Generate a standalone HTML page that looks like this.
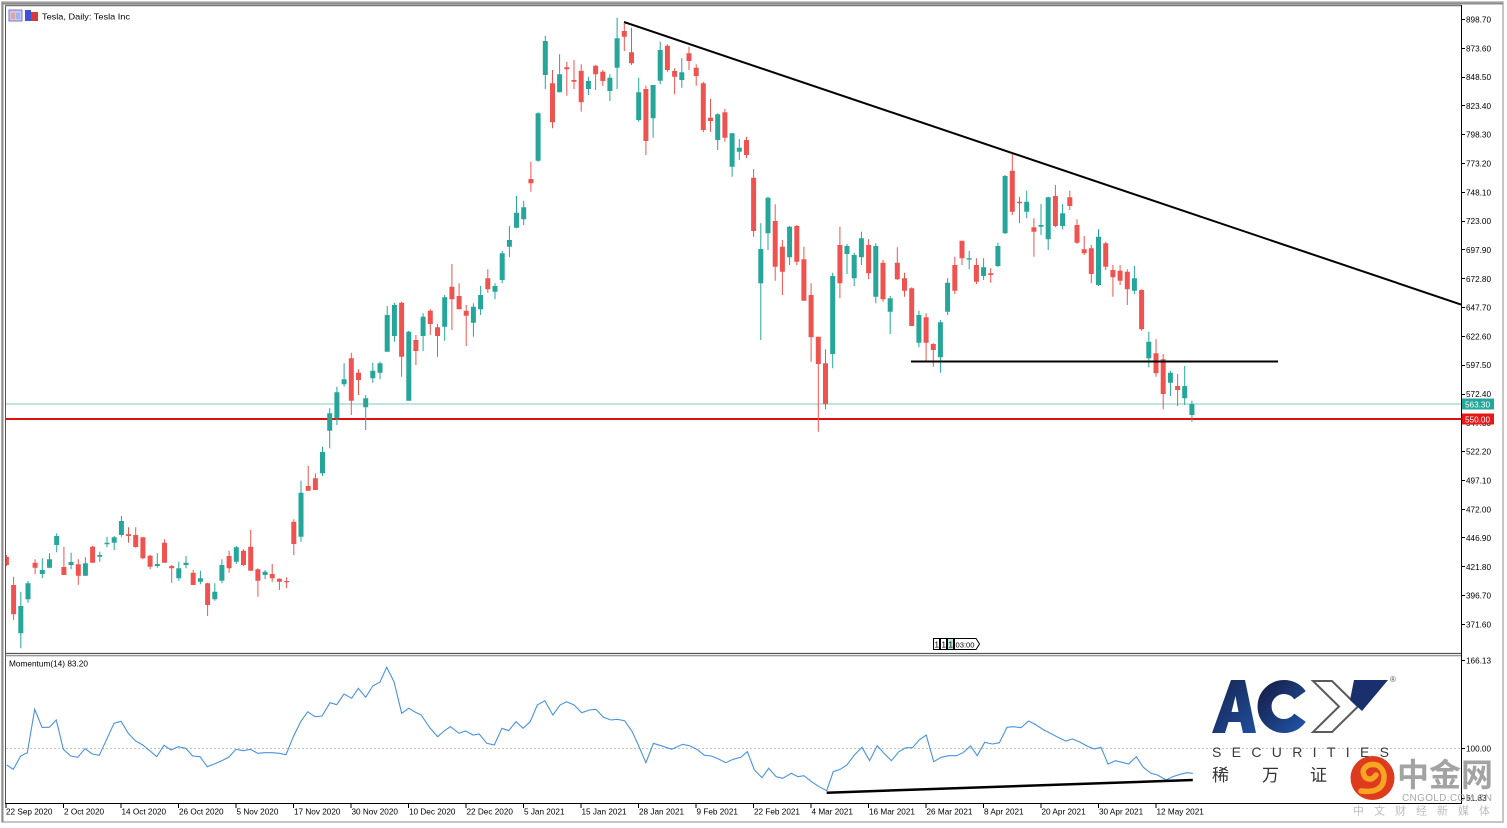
<!DOCTYPE html>
<html><head><meta charset="utf-8"><style>
html,body{margin:0;padding:0;background:#fff;width:1507px;height:828px;overflow:hidden}
svg{display:block}
text{font-family:"Liberation Sans","Noto Sans CJK SC",sans-serif}
</style></head><body>
<svg width="1507" height="828" viewBox="0 0 1507 828" xmlns="http://www.w3.org/2000/svg">
<defs>
<clipPath id="mp"><rect x="6" y="6" width="1455" height="647"/></clipPath>
<clipPath id="ip"><rect x="6" y="656" width="1455" height="147"/></clipPath>
<linearGradient id="nv" x1="0" y1="0" x2="1" y2="1"><stop offset="0" stop-color="#17224d"/><stop offset="1" stop-color="#1f4f9e"/></linearGradient>
</defs>
<rect width="1507" height="828" fill="#fff"/>
<!-- outer frame -->
<rect x="2" y="2" width="1501" height="820" fill="none" stroke="#b4b4b4" stroke-width="1.5"/>
<line x1="1.5" y1="3.5" x2="1503" y2="3.5" stroke="#8c8c8c" stroke-width="2"/>
<line x1="2.5" y1="2" x2="2.5" y2="822" stroke="#8c8c8c" stroke-width="2"/>
<line x1="5.5" y1="5" x2="5.5" y2="804" stroke="#555" stroke-width="1"/>
<line x1="5" y1="5.5" x2="1461" y2="5.5" stroke="#777" stroke-width="1.5"/>
<line x1="1461.5" y1="5" x2="1461.5" y2="804" stroke="#000" stroke-width="1"/>
<line x1="5" y1="653.5" x2="1461" y2="653.5" stroke="#555" stroke-width="1.2"/>
<line x1="5" y1="655.8" x2="1461" y2="655.8" stroke="#777" stroke-width="1"/>
<line x1="5" y1="803.5" x2="1462" y2="803.5" stroke="#000" stroke-width="1"/>

<!-- title -->
<rect x="9" y="10" width="13" height="11" fill="#c9c6ee" stroke="#7b78c6" stroke-width="1"/>
<rect x="11" y="13" width="4" height="6" fill="#e9a0a0"/><rect x="16" y="13" width="4" height="6" fill="#9fb4e8"/>
<rect x="25" y="10" width="6" height="11" fill="#3a55d8"/><rect x="31" y="12" width="7" height="9" fill="#d83a3a"/>
<text x="42" y="19.5" font-size="8.4" textLength="88" lengthAdjust="spacingAndGlyphs">Tesla, Daily:  Tesla Inc</text>

<!-- main pane -->
<g clip-path="url(#mp)">
<line x1="6" y1="404" x2="1461" y2="404" stroke="#80cbbf" stroke-width="1"/>
<line x1="6" y1="419" x2="1461" y2="419" stroke="#e01010" stroke-width="2"/>
<path fill="none" stroke="#ef5350" stroke-width="1" d="M6.4 555V566 M13.6 576.7V620 M35.1 559.3V574 M63.9 546.7V575 M78.3 559.3V584.7 M92.6 546V562.7 M128.5 527.3V542.7 M135.7 527.3V547.7 M142.9 537.3V559.3 M150.1 555V569.3 M164.5 539.3V562.7 M171.7 565V582.7 M193.2 570V585 M207.6 582.7V616 M229.1 550.7V572.7 M243.5 549.3V566 M250.7 530V570.7 M257.9 568.3V596.7 M272.2 564V581.7 M279.4 578.3V590 M286.6 577.3V588.3 M293.8 519.3V555 M308.2 466V490.7 M315.4 473.3V490 M351.3 352.7V415 M358.5 369.3V395 M401.6 301.7V376.7 M415.9 335V365 M430.3 309.3V335 M437.5 324V356.7 M451.9 264V330 M459.1 283.3V309.3 M466.2 305V346 M487.8 269.3V292.7 M530.9 161.7V191.7 M552.5 70V128.3 M566.8 61.7V95.7 M574 60V89 M581.2 64.3V111.7 M595.6 65V90 M602.8 70V85.7 M624.3 23.3V51 M631.5 27.7V65 M645.9 85.7V155 M667.4 44.3V71.7 M674.6 68.3V94.3 M689 46.7V70 M696.2 64.3V85.7 M703.3 81.7V132.3 M710.5 99V131.7 M724.9 109V141.7 M746.5 136.7V158.3 M753.6 169V236.7 M775.2 204.3V280.7 M782.4 240V295 M796.8 225V265 M803.9 246.7V300.7 M811.1 283.3V361.7 M818.3 336.7V431.7 M825.5 349.3V409.3 M839.9 226.7V298.3 M868.6 239.3V279.3 M883 260V301.7 M897.3 247.3V280 M904.5 272.7V296.7 M911.7 287.3V326 M926.1 313.3V361.7 M933.3 343.3V366.7 M954.8 256.7V294 M962 240.7V265 M976.4 258.3V284 M990.7 268.3V282.7 M1012.3 153.3V215 M1019.5 196.7V223.3 M1033.9 218.3V256.7 M1055.4 185V227.3 M1069.8 190.7V210 M1077 219.3V244 M1084.2 236V255 M1091.3 245V283.3 M1105.7 241.7V270 M1112.9 265V296.7 M1120.1 265V285 M1127.3 269.3V305 M1141.6 289.3V330.7 M1156 339.3V376.7 M1163.2 354V409.3 M1177.6 374V406"/>
<path fill="none" stroke="#ef5350" stroke-width="5" d="M6.4 557V565 M13.6 585V614.3 M35.1 562.7V567.7 M63.9 567V575 M78.3 564.3V575.7 M92.6 546.7V562.7 M128.5 534.3V536 M135.7 535V547 M142.9 537.3V558.3 M150.1 555.7V566.7 M164.5 542.7V562.7 M171.7 566V568.3 M193.2 572.7V585 M207.6 583.3V605 M229.1 556V568.3 M243.5 550.7V565 M250.7 546.7V570.7 M257.9 569.3V580.7 M272.2 574V578.3 M279.4 578.7V581.7 M286.6 581V582.3 M293.8 521.7V544 M308.2 486V490.7 M315.4 478.3V490 M351.3 358.3V400.7 M358.5 372.7V380 M401.6 302.7V356.7 M415.9 340V351 M430.3 310.7V324 M437.5 327.3V336 M451.9 286.7V299.3 M459.1 296V309.3 M466.2 310.7V315.7 M487.8 278.3V289.3 M530.9 179V183.3 M552.5 83.3V122.3 M566.8 67.3V69.3 M574 80V81.7 M581.2 70.7V102.3 M595.6 65.7V74.3 M602.8 71.7V81 M624.3 31V36.7 M631.5 52.3V63.3 M645.9 89V141 M667.4 45.7V70 M674.6 71V76.7 M689 53.3V61 M696.2 67.7V76 M703.3 83.3V130 M710.5 117.7V121 M724.9 112.3V137.7 M746.5 140V155 M753.6 177.7V231 M775.2 221V266.7 M782.4 246.7V271.7 M796.8 226V261.7 M803.9 259.3V300.7 M811.1 295V337.3 M818.3 336.7V364 M825.5 363.3V404 M839.9 245V283.3 M868.6 245V273.3 M883 262.7V299.3 M897.3 262.7V279.3 M904.5 278.3V290.7 M911.7 288.3V326 M926.1 317.3V342.7 M933.3 344V350 M954.8 265V290.7 M962 240.7V258.3 M976.4 265V281.7 M990.7 273.3V275 M1012.3 170.7V211.7 M1019.5 201.7V203.3 M1033.9 227.3V231.7 M1055.4 196V226 M1069.8 197.3V206 M1077 225V242.7 M1084.2 249.3V253.3 M1091.3 248.3V274 M1105.7 243.3V266.7 M1112.9 270V277.3 M1120.1 270.7V280.7 M1127.3 271.7V289.3 M1141.6 290V329.3 M1156 353.3V373.3 M1163.2 359.3V394 M1177.6 386V390"/>
<path fill="none" stroke="#26a69a" stroke-width="1" d="M20.8 591.7V648.3 M28 581V602.7 M42.3 558.3V578.3 M49.5 553.3V568.3 M56.7 533.3V552.3 M71.1 552.7V569.3 M85.4 557.3V575.7 M99.8 551.7V561.7 M107 536.7V547.3 M114.2 536V550 M121.4 516V536.7 M157.3 553.3V567.7 M178.8 561.7V580.7 M186 556V568.3 M200.4 570.7V584.3 M214.8 583.3V600.7 M221.9 559.3V583.3 M236.3 546V564 M265.1 570V579.3 M301 480.7V541.7 M322.5 446.7V476 M329.7 408.3V448.3 M336.9 386.7V425 M344.1 363.3V386.7 M365.7 395V430 M372.8 362.7V382.7 M380 361.7V379.3 M387.2 306V351.7 M394.4 302.7V341.7 M408.8 330.7V400.7 M423.1 313.3V351 M444.7 295V340.7 M473.4 303.3V336.7 M480.6 286V315 M495 283.3V299.3 M502.2 250.7V283.3 M509.4 226V257.3 M516.5 196V228.3 M523.7 200.7V225 M538.1 112.3V161.7 M545.3 35.7V89 M559.6 54.3V92.3 M588.4 76.7V95 M609.9 74.3V101 M617.1 17.7V89 M638.7 77.7V121.7 M653.1 85V137.7 M660.2 41.7V84.3 M681.8 58.3V87.7 M717.7 113.3V150 M732.1 133.3V176.7 M739.3 139V160 M760.8 223.3V340 M768 196.7V250 M789.6 226V265 M832.7 272.7V368.3 M847 244V274 M854.2 252.7V286 M861.4 231.7V265 M875.8 243.3V303.3 M890.2 296V334 M918.9 310.7V347.3 M940.4 320V372.7 M947.6 278.3V315 M969.2 250.7V269.3 M983.6 258.3V280 M997.9 242.7V267.3 M1005.1 175V234 M1026.7 190.7V218.3 M1041 204V235 M1048.2 196.7V250 M1062.6 204V229.3 M1098.5 229.3V286 M1134.4 266V294 M1148.8 331.7V367.3 M1170.4 370.7V396 M1184.7 366V405 M1191.9 400.7V421.7"/>
<path fill="none" stroke="#26a69a" stroke-width="5" d="M20.8 606V633.3 M28 583.3V599.3 M42.3 570V574 M49.5 559.3V567.7 M56.7 536V545 M71.1 562V565 M85.4 563.3V575.7 M99.8 555V556.7 M107 542.7V544.3 M114.2 537.3V542.7 M121.4 521V535 M157.3 564V566 M178.8 568.3V578.3 M186 562.7V565 M200.4 578.3V581.7 M214.8 591.7V599.3 M221.9 565V580.7 M236.3 547.3V561.7 M265.1 571.7V575 M301 492.7V536.7 M322.5 452V473.3 M329.7 413.3V430.7 M336.9 392.3V418.3 M344.1 379.3V384.3 M365.7 398.3V407.3 M372.8 370.7V378.3 M380 363.3V372.7 M387.2 315V351.7 M394.4 305V336 M408.8 331.7V400.7 M423.1 316.7V336 M444.7 297.3V326.7 M473.4 306.7V322.7 M480.6 295V309.3 M495 286V291.7 M502.2 253.3V280 M509.4 240V246.7 M516.5 212.7V227.7 M523.7 207.3V219.3 M538.1 113.3V160.7 M545.3 41V75 M559.6 74.3V92.3 M588.4 81V89 M609.9 77.7V91 M617.1 38.3V67.7 M638.7 92.3V120 M653.1 85V118.3 M660.2 50V80.7 M681.8 72.3V80 M717.7 114.3V140 M732.1 133.3V166.7 M739.3 147.7V151.7 M760.8 249V283.3 M768 197.7V233.3 M789.6 226.7V257.3 M832.7 276V354 M847 246V254 M854.2 255V278.3 M861.4 238.3V257.3 M875.8 246V296.7 M890.2 298.3V311.7 M918.9 315V342.7 M940.4 322.3V357.3 M947.6 282.7V311.7 M969.2 258.3V259.6 M983.6 267.3V276 M997.9 246V266 M1005.1 176V233.3 M1026.7 201.7V211.7 M1041 225V226.7 M1048.2 197.3V239.3 M1062.6 213.3V226 M1098.5 236.7V285 M1134.4 278.3V290.7 M1148.8 341.7V358.3 M1170.4 372.7V382.7 M1184.7 386V398.3 M1191.9 404V415"/>
<line x1="624" y1="22" x2="1461" y2="304.5" stroke="#000" stroke-width="2"/>
<line x1="911" y1="361.5" x2="1278" y2="361.5" stroke="#000" stroke-width="2"/>
</g>

<!-- 1 1 1 03:00 marker -->
<g font-size="8" fill="#000">
<rect x="933.5" y="638.5" width="6" height="11" fill="#fff" stroke="#000"/>
<rect x="940.5" y="638.5" width="6" height="11" fill="#fff" stroke="#000"/>
<rect x="947.5" y="638.5" width="6" height="11" fill="#bfe8e2" stroke="#000"/>
<path d="M954.5 638.5H976L979.5 644L976 649.5H954.5Z" fill="#fff" stroke="#000"/>
<text x="934.5" y="647.5">1</text><text x="941.5" y="647.5">1</text><text x="948.5" y="647.5">1</text>
<text x="955.5" y="647.5" font-size="7.6">03:00</text>
</g>

<!-- price axis -->
<g stroke="#000" stroke-width="1">
<path d="M1461 19.5h4M1461 48.5h4M1461 77.5h4M1461 105.5h4M1461 134.5h4M1461 163.5h4M1461 192.5h4M1461 221.5h4M1461 249.5h4M1461 278.5h4M1461 307.5h4M1461 336.5h4M1461 365.5h4M1461 394.5h4M1461 422.5h4M1461 451.5h4M1461 480.5h4M1461 509.5h4M1461 537.5h4M1461 566.5h4M1461 595.5h4M1461 624.5h4M1461 660.5h4M1461 748.5h4M1461 798.5h4"/>
</g>
<g font-size="8.2" fill="#000">
<text x="1466" y="22.5">898.70</text>
<text x="1466" y="51.3">873.60</text>
<text x="1466" y="80.1">848.50</text>
<text x="1466" y="108.9">823.40</text>
<text x="1466" y="137.7">798.30</text>
<text x="1466" y="166.5">773.20</text>
<text x="1466" y="195.4">748.10</text>
<text x="1466" y="224.2">723.00</text>
<text x="1466" y="253">697.90</text>
<text x="1466" y="281.8">672.80</text>
<text x="1466" y="310.6">647.70</text>
<text x="1466" y="339.4">622.60</text>
<text x="1466" y="368.2">597.50</text>
<text x="1466" y="397">572.40</text>
<text x="1466" y="425.8">547.30</text>
<text x="1466" y="454.7">522.20</text>
<text x="1466" y="483.5">497.10</text>
<text x="1466" y="512.3">472.00</text>
<text x="1466" y="541.1">446.90</text>
<text x="1466" y="569.9">421.80</text>
<text x="1466" y="598.7">396.70</text>
<text x="1466" y="627.5">371.60</text>
<text x="1466" y="663.5">166.13</text>
<text x="1466" y="751.5">100.00</text>
<text x="1466" y="801">61.83</text>
</g>
<rect x="1462" y="398.5" width="32" height="11" fill="#26a69a"/>
<text x="1465" y="407.3" font-size="8.2" fill="#fff">563.30</text>
<rect x="1462" y="413.5" width="32" height="11" fill="#e81818"/>
<text x="1465" y="422.3" font-size="8.2" fill="#fff">550.00</text>

<!-- momentum pane -->
<text x="9" y="666.5" font-size="8.3" textLength="79" lengthAdjust="spacingAndGlyphs">Momentum(14) 83.20</text>
<g clip-path="url(#ip)">
<line x1="6" y1="748.5" x2="1461" y2="748.5" stroke="#c4c4c4" stroke-width="1" stroke-dasharray="2 2"/>
<polyline fill="none" stroke="#4a93dc" stroke-width="1.1" points="6.7,765 13.3,769.3 20.7,756 27.3,752.7 34.7,709.3 42,727.3 49.3,727.3 56.3,720 63.3,749.3 70.7,756 77.7,757.3 85,748.7 92.3,754 99.3,755.3 106.7,739.3 114,723.3 121,721.3 128.3,733.3 135.3,740.7 142.7,745 149.7,750.7 156.7,756.7 164,745.3 171,750 178.3,746.7 185.7,748.3 192.7,756 200,756.7 207.3,766.7 214.3,764 221.7,760.7 228.7,757.3 236,749.3 243.3,750.7 250.3,749.3 257.7,753.3 265,752.7 272,752.7 279.3,753.3 286,754.7 293.3,736.7 300.7,721.7 307.7,711.7 315,716.7 322,716 330,702.7 336.7,704.7 344,694 351.7,698.3 358.3,688.3 365.7,697.3 372.7,686 380,682 386.7,667.3 394,681.7 401.7,713.3 408.7,708.3 415,712 421.1,715 430.2,728.3 437.8,736.7 444,731 450.4,726.7 459,733.3 465.6,731 473.1,735 479.2,734 486.8,743.3 494.3,745 501.9,728.3 508.5,730.7 516.1,721.7 523.1,728.3 530.2,721.7 537.3,705 544.8,700.7 552.9,715 560,705 566.6,701.7 574.1,705 581.7,712.7 589.3,710 595.9,709.3 603.4,717.3 611,720 617.1,719.3 624.6,720.7 632.2,731.7 638.3,745 645.9,762.7 653.4,743.3 661,745.7 671.6,749.3 682.7,744.3 690.3,746 697.9,750 704.4,755.3 711.5,756 719.1,759.3 725.7,762.7 733.2,759.3 740.8,757.3 747.4,751.7 754.4,770 762,777.7 768.6,768.3 776.2,776.7 782.7,778.3 791.3,773.3 797.9,776.7 803.9,775.7 811.5,781.7 819.1,786.7 826.7,790.7 833.2,771.7 840.3,769.3 846.9,765 854.4,755 862,747.3 869.6,760.7 877.2,745.7 884.7,754 891.3,760.7 898.9,751.7 906,747.7 912.5,747.7 919.1,740 926.2,735 933.7,761.7 941.3,757.3 948.9,755.7 956.5,755.7 963,752.7 970.6,746 977.2,755.7 984.7,742.3 992.3,744 999.4,742.7 1007,727.3 1013.5,726.7 1021.1,727.7 1028.7,721 1036.3,725 1043.8,730 1050.4,733.3 1058,737.3 1065.6,741 1072.6,739 1080.2,742.3 1086.8,746 1094.3,749 1101,747.3 1108,764 1115.6,760.7 1122.1,762.3 1128.7,764 1136.3,756.7 1143.3,767.3 1151,773.3 1157.5,775 1166.1,780 1172.6,776.7 1180.2,774.3 1186.8,772.7 1192.8,773.3"/>
<line x1="826.7" y1="792.7" x2="1192.8" y2="780" stroke="#000" stroke-width="2.5"/>
</g>

<!-- date axis -->
<g stroke="#000" stroke-width="1">
<path d="M6 803v5M63.5 803v5M121 803v5M178.5 803v5M236 803v5M293.5 803v5M351 803v5M408.5 803v5M466 803v5M523.5 803v5M581 803v5M638.5 803v5M696 803v5M753.5 803v5M811 803v5M868.5 803v5M926 803v5M983.5 803v5M1041 803v5M1098.5 803v5M1156 803v5"/>
</g>
<g font-size="8.2" fill="#000">
<text x="6" y="814.5">22 Sep 2020</text>
<text x="64" y="814.5">2 Oct 2020</text>
<text x="121.5" y="814.5">14 Oct 2020</text>
<text x="179" y="814.5">26 Oct 2020</text>
<text x="236.5" y="814.5">5 Nov 2020</text>
<text x="294" y="814.5">17 Nov 2020</text>
<text x="351.5" y="814.5">30 Nov 2020</text>
<text x="409" y="814.5">10 Dec 2020</text>
<text x="466.5" y="814.5">22 Dec 2020</text>
<text x="524" y="814.5">5 Jan 2021</text>
<text x="581.5" y="814.5">15 Jan 2021</text>
<text x="639" y="814.5">28 Jan 2021</text>
<text x="696.5" y="814.5">9 Feb 2021</text>
<text x="754" y="814.5">22 Feb 2021</text>
<text x="811.5" y="814.5">4 Mar 2021</text>
<text x="869" y="814.5">16 Mar 2021</text>
<text x="926.5" y="814.5">26 Mar 2021</text>
<text x="984" y="814.5">8 Apr 2021</text>
<text x="1041.5" y="814.5">20 Apr 2021</text>
<text x="1099" y="814.5">30 Apr 2021</text>
<text x="1156.5" y="814.5">12 May 2021</text>
</g>

<!-- ACY watermark -->
<path fill="url(#nv)" fill-rule="evenodd" d="M1212 733L1231 680L1245 680L1256 733L1243 733L1240.5 722L1228.5 722L1225 733Z M1238.5 712L1235.5 696L1231.5 712Z"/>
<path fill="none" stroke="url(#nv)" stroke-width="14" d="M1300 695.3A19.5 19.5 0 1 0 1300 717.7"/>
<path fill="none" stroke="#5a5a5a" stroke-width="2" d="M1313 681L1332 681L1358 706.5L1332 732L1313 732L1339 706.5Z"/>
<path fill="#1b2f6e" d="M1354 680L1388 680L1362 711L1350 700Z"/>
<text x="1390" y="682" font-size="8" fill="#555">®</text>
<text x="1212" y="757" font-size="14" fill="#3a3a3a" textLength="177" lengthAdjust="spacing">SECURITIES</text>
<g font-size="17" fill="#333" font-family="'Noto Sans CJK SC',sans-serif">
<text x="1212" y="781">稀</text><text x="1262" y="781">万</text><text x="1310" y="781">证</text>
</g>
<circle cx="1372.5" cy="778" r="22" fill="#de3b1e"/>
<path fill="none" stroke="#f6a623" stroke-width="5.5" stroke-linecap="round" d="M1361 791Q1385 794 1384 775Q1381 762 1369 765Q1360 769 1365 777Q1371 782 1376 775"/>
<text x="1397" y="786" font-size="32" font-weight="bold" fill="#a3a3a3" font-family="'Noto Sans CJK SC',sans-serif">中金网</text>
<text x="1402" y="801" font-size="10" fill="#a8a8a8" textLength="90" lengthAdjust="spacing">CNGOLD.COM.CN</text>
<text x="1353" y="814.5" font-size="11" fill="#bdbdbd" textLength="137" lengthAdjust="spacing" font-family="'Noto Sans CJK SC',sans-serif">中文财经新媒体</text>
</svg>
</body></html>
